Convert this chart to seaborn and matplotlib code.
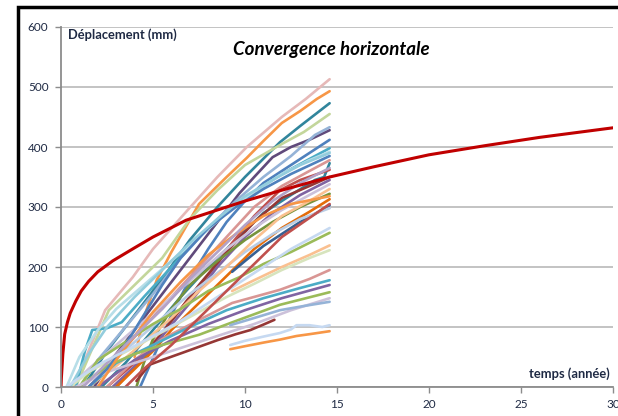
import numpy as np
import pandas as pd
import matplotlib
matplotlib.use("Agg")
import matplotlib.pyplot as plt
import matplotlib.patches as patches
import seaborn as sns

# courbe theorique (rouge)
red_t = [0, 0.02, 0.05, 0.1, 0.2, 0.35, 0.5, 0.8, 1.1, 1.5, 2.0, 2.8, 4, 5, 6.8, 8.3, 10, 12,
         14.6, 17, 20, 23, 26, 30]
red_d = [0, 15, 30, 55, 88, 108, 123, 143, 160, 176, 192, 210, 232, 250, 278, 293, 310, 328,
         350, 367, 387, 402, 416, 432]

# mesures (temps en annees, deplacement en mm)
mes_t = [
    [0.7, 1.5, 2.4, 3.9, 5.0, 6.8, 8.5, 10.1, 12.0, 13.3, 14.6],
    [4.0, 4.5, 5.2, 6.0, 7.5, 9.0, 10.1, 11.0, 12.0, 13.0, 13.9, 14.6],
    [1.2, 2.5, 4.0, 5.5, 7.0, 8.5, 10.0, 11.9, 13.0, 14.6],
    [0.8, 1.5, 2.6, 4.0, 5.5, 7.0, 8.5, 10.0, 12.0, 13.2, 14.6],
    [1.8, 3.0, 4.5, 6.0, 7.5, 9.0, 9.7, 10.5, 11.5, 12.5, 13.5, 14.6],
    [1.0, 2.0, 3.5, 5.0, 6.5, 8.0, 9.5, 11.0, 12.5, 13.8, 14.6],
    [4.3, 5.2, 6.0, 7.0, 8.0, 9.0, 10.0, 11.0, 12.0, 13.0, 14.0, 14.6],
    [0.8, 1.3, 1.7, 2.5, 3.3, 4.5, 6.0, 7.5, 9.0, 10.5, 12.0, 13.5, 14.6],
    [0.3, 1.0, 2.0, 3.0, 4.5, 6.0, 7.5, 9.0, 10.5, 12.0, 13.5, 14.6],
    [1.5, 3.0, 4.5, 6.0, 7.5, 9.0, 10.5, 12.0, 13.5, 14.6],
    [2.2, 3.5, 5.0, 6.5, 8.0, 9.5, 11.0, 12.5, 13.8, 14.3, 14.6],
    [2.5, 4.0, 5.5, 7.0, 8.5, 9.3, 10.5, 11.9, 13.0, 14.6],
    [3.0, 4.5, 6.0, 7.5, 9.0, 10.5, 12.0, 13.5, 14.6],
    [2.8, 4.2, 5.5, 7.0, 8.5, 10.0, 11.5, 13.0, 14.6],
    [0.5, 1.5, 3.0, 4.5, 6.0, 7.5, 9.0, 10.5, 12.0, 13.5, 14.6],
    [4.1, 4.5, 5.0, 6.0, 7.0, 8.5, 10.0, 11.5, 13.0, 14.6],
    [3.0, 4.0, 5.0, 6.0, 7.5, 9.0, 10.5, 12.0, 13.5, 14.6],
    [9.3, 10.0, 11.0, 12.0, 13.0, 14.0, 14.6],
    [1.0, 2.5, 4.0, 5.5, 7.0, 8.5, 10.0, 11.5, 13.0, 14.6],
    [1.5, 3.0, 4.5, 6.0, 7.5, 9.0, 10.5, 12.0, 13.5, 14.6],
    [1.0, 2.0, 3.0, 4.0, 5.0, 6.5, 8.0, 9.7, 11.0, 12.5, 14.6],
    [9.3, 10.5, 12.0, 13.5, 14.6],
    [0.5, 1.5, 3.0, 4.5, 6.0, 7.5, 9.0, 10.5, 12.0, 13.5, 14.6],
    [2.5, 4.0, 5.5, 7.2, 9.3, 11.9, 13.5, 14.6],
    [1.5, 3.0, 5.0, 7.0, 9.0, 11.0, 13.0, 14.6],
    [2.0, 4.0, 6.0, 8.0, 10.0, 12.0, 14.6],
    [1.0, 2.5, 4.0, 5.5, 7.5, 9.5, 11.9, 14.6],
    [0.8, 2.5, 4.5, 6.5, 8.5, 10.5, 12.5, 14.6],
    [9.2, 10.5, 11.9, 13.2, 14.6],
    [4.1, 4.8, 5.5, 6.6, 7.5, 8.5, 9.5, 10.3, 11.0, 11.6],
    [9.2, 10.0, 11.0, 11.9, 12.5, 12.8, 13.5, 14.2, 14.6],
    [9.2, 10.0, 11.0, 11.9, 12.8, 13.5, 14.6],
    [1.5, 2.5, 3.5, 4.5, 5.5, 6.5, 8.0, 9.5, 11.0, 12.5, 14.6],
    [0.5, 1.5, 2.5, 4.0, 5.5, 7.0, 8.5, 10.0, 11.5, 13.0, 14.6],
    [2.0, 3.0, 4.0, 5.0, 6.5, 8.0, 9.5, 11.0, 12.5, 14.6],
    [1.2, 2.5, 4.0, 5.5, 7.0, 8.5, 10.0, 11.5, 13.0, 14.6],
    [0.3, 1.2, 2.2, 3.5, 5.0, 6.5, 8.0, 9.5, 11.0, 12.5, 14.6],
    [3.5, 4.5, 6.0, 7.5, 9.0, 10.5, 12.0, 14.6],
]
mes_d = [
    [0, 60, 128, 183, 230, 292, 350, 400, 450, 480, 513],
    [50, 115, 178, 225, 305, 350, 382, 410, 440, 460, 480, 493],
    [0, 60, 120, 180, 245, 300, 350, 408, 435, 473],
    [0, 50, 128, 170, 215, 280, 328, 370, 405, 425, 455],
    [0, 55, 115, 175, 235, 295, 323, 350, 383, 400, 412, 428],
    [0, 45, 100, 155, 215, 265, 310, 350, 385, 420, 433],
    [0, 62, 120, 180, 230, 275, 310, 340, 360, 380, 400, 412],
    [0, 60, 95, 98, 108, 150, 200, 250, 290, 325, 355, 380, 398],
    [0, 50, 95, 130, 170, 210, 250, 290, 325, 355, 378, 392],
    [0, 50, 100, 150, 200, 250, 300, 335, 360, 378],
    [0, 40, 95, 150, 200, 245, 290, 320, 345, 350, 373],
    [0, 40, 90, 150, 205, 240, 285, 328, 345, 362],
    [0, 50, 110, 170, 225, 275, 315, 335, 350],
    [0, 40, 85, 140, 200, 250, 290, 320, 345],
    [0, 30, 70, 110, 150, 190, 230, 265, 295, 320, 338],
    [0, 40, 80, 130, 170, 210, 245, 275, 300, 322],
    [0, 30, 60, 95, 140, 185, 230, 265, 292, 313],
    [192, 210, 235, 255, 275, 292, 303],
    [0, 35, 75, 115, 155, 190, 225, 255, 280, 298],
    [0, 35, 75, 115, 160, 200, 245, 285, 310, 330],
    [0, 45, 65, 85, 105, 130, 160, 183, 205, 225, 257],
    [160, 178, 200, 220, 236],
    [0, 25, 50, 75, 100, 125, 150, 172, 195, 215, 228],
    [0, 45, 80, 107, 140, 162, 180, 195],
    [0, 40, 70, 100, 128, 148, 165, 178],
    [0, 45, 78, 105, 128, 148, 170],
    [0, 35, 55, 70, 87, 110, 137, 158],
    [0, 25, 45, 65, 85, 105, 128, 148],
    [103, 115, 128, 135, 142],
    [10, 37, 45, 57, 67, 78, 88, 95, 104, 112],
    [70, 77, 84, 90, 96, 103, 103, 100, 103],
    [63, 68, 74, 79, 85, 88, 93],
    [0, 30, 70, 120, 170, 215, 265, 300, 330, 355, 385],
    [0, 55, 100, 150, 195, 240, 280, 318, 345, 370, 390],
    [0, 45, 85, 125, 175, 220, 255, 285, 305, 318],
    [0, 40, 85, 130, 180, 225, 270, 310, 340, 365],
    [0, 20, 40, 60, 85, 110, 140, 170, 200, 230, 265],
    [0, 30, 70, 115, 160, 205, 250, 305],
]
mes_couleurs = [
    "#E6B9B8", "#F79646", "#31859C", "#C3D69B", "#604A7B", "#95B3D7",
    "#4F81BD", "#4BACC6", "#B7DEE8", "#D99694", "#31859C", "#C0504D",
    "#953735", "#8064A2", "#CCC1DA", "#77933C", "#E46C0A", "#376092",
    "#B9CDE5", "#FAC090", "#9BBB59", "#FAC090", "#D7E4BD", "#D99694",
    "#4BACC6", "#8064A2", "#9BBB59", "#CCC1DA", "#95B3D7", "#953735",
    "#C6D9F1", "#F79646", "#4F81BD", "#93CDDD", "#F79646", "#B3A2C7",
    "#C6D9F1", "#C0504D",
]

rows = []
for i, (ts, ds) in enumerate(zip(mes_t, mes_d)):
    for t, d in zip(ts, ds):
        rows.append({"serie": i, "t": t, "d": d})
df = pd.DataFrame(rows)
palette = {i: c for i, c in enumerate(mes_couleurs)}
df_red = pd.DataFrame({"t": red_t, "d": red_d})

sns.set_style("white")
plt.rcParams['font.family'] = ['Lato', 'DejaVu Sans']

fig = plt.figure(figsize=(6.18, 4.16), dpi=100)
ax = fig.add_axes([61 / 618, 29 / 416, 552 / 618, 360 / 416])

sns.lineplot(data=df, x="t", y="d", hue="serie", palette=palette, legend=False,
             estimator=None, sort=False, lw=1.9, ax=ax)
sns.lineplot(data=df_red, x="t", y="d", color="#C00000", lw=2.2,
             estimator=None, sort=False, ax=ax)

ax.set_xlim(0, 30)
ax.set_ylim(0, 600)
ax.set_xticks(range(0, 31, 5))
ax.set_yticks(range(0, 601, 100))
ax.yaxis.grid(True, color="#B3B3B3", lw=1.1)
ax.set_axisbelow(True)
for s in ["top", "right"]:
    ax.spines[s].set_visible(False)
for s in ["left", "bottom"]:
    ax.spines[s].set_color("#8C8C8C")
    ax.spines[s].set_linewidth(1.3)
ax.tick_params(axis="both", length=4, width=1, color="#8C8C8C",
               labelsize=8.5, labelcolor="#1F2A44", pad=5, direction="out")
ax.tick_params(left=True, bottom=True)
ax.set_xlabel("")
ax.set_ylabel("")

ax.text(0.4, 588, "Déplacement (mm)", fontsize=9.3, fontweight="bold",
        color="#1F2A44", va="center", ha="left")
ax.text(14.7, 562, "Convergence horizontale", fontsize=13.5, fontweight="bold",
        fontstyle="italic", color="black", va="center", ha="center")
ax.text(29.8, 22, "temps (année)", fontsize=9.3, fontweight="bold",
        color="#1F2A44", va="center", ha="right")

# cadre noir
fig.add_artist(patches.Rectangle((18 / 618, -0.1), 1.2, (416 - 7) / 416 + 0.1,
                                 fill=False, edgecolor="black", lw=2.5,
                                 transform=fig.transFigure, clip_on=False))

fig.savefig("out.png", dpi=100)
